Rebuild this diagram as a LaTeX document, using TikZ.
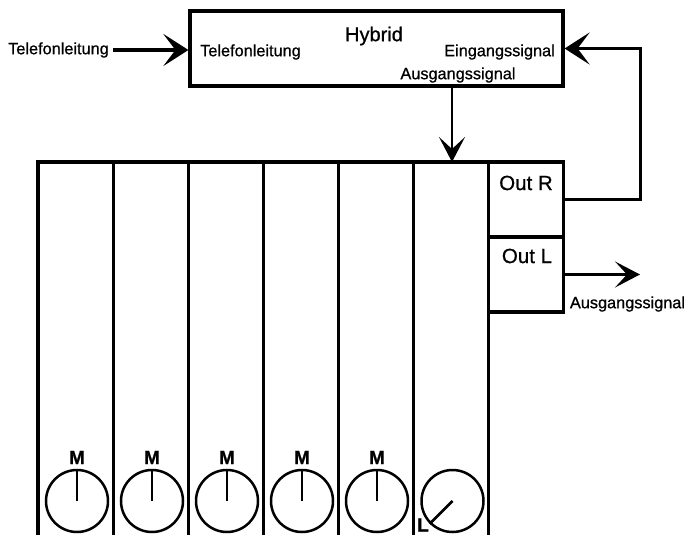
\documentclass[tikz,border=0pt]{standalone}
\usepackage{fontspec}
\setmainfont{Liberation Sans}[FakeBold=0.8]
\usetikzlibrary{arrows.meta}
\begin{document}
\begin{tikzpicture}[x=1pt,y=-1pt,
  thickline/.style={line width=3.2pt},
  conn/.style={line width=3.2pt},
  thinconn/.style={line width=2.3pt},
  bigtip/.style={-{Stealth[length=25pt,width=32pt,inset=12pt]}},
  midtip/.style={-{Stealth[length=25pt,width=26pt,inset=12pt]}},
  lbl/.style={font=\fontsize{16.3}{18}\selectfont, inner sep=0pt},
  biglbl/.style={font=\fontsize{20.5}{22}\selectfont, inner sep=0pt},
  knoblbl/.style={font=\fontsize{19}{21}\selectfont\bfseries, inner sep=0pt},
  knob/.style={circle, draw, minimum size=62pt, line width=2.5pt, inner sep=0pt},
  outbox/.style={draw, thickline, minimum width=75.1pt, minimum height=75pt, inner sep=0pt},
  pointer/.style={line width=2.5pt}]
\useasboundingbox (0,0) rectangle (686,535);

% Hybrid
\node[draw, thickline, minimum width=373pt, minimum height=75pt, inner sep=0pt] (hyb) at (376.5,48.5) {};
\node[font=\fontsize{20}{22}\selectfont, inner sep=0pt] (hybt) at (374,36) {Hybrid};
\node[lbl, anchor=west] (tin) at (200,52) {Telefonleitung};
\node[lbl, anchor=east] (ein) at (555,52) {Eingangssignal};
\node[lbl] (aus) at (458,75) {Ausgangssignal};

% left input
\node[lbl, anchor=west] (tel) at (8,50) {Telefonleitung};
\draw[conn,bigtip] ([xshift=4pt]tel.east) -- (tel.east -| hyb.west);

% mixer
\draw[thickline] (38,537) -- (38,162) -- (488.6,162);
\foreach \x in {113.1,188.2,263.3,338.4,413.5,488.6} {
  \draw[thickline] (\x,162) -- (\x,537);
}
\node[outbox] (outR) at (526.15,199.5) {};
\node[outbox] (outL) at (526.15,274.5) {};
\node[biglbl] (outRt) at (526,183) {Out R};
\node[biglbl] (outLt) at (527,256) {Out L};

% hybrid -> mixer
\coordinate (mtop) at (452,162);
\draw[thinconn,midtip] (hyb.south -| mtop) -- (mtop);

% Out R -> hybrid
\draw[conn,bigtip] (outR.east) -| ([xshift=76pt]hyb.east) -- (hyb.east);

% Out L output
\coordinate (oend) at (640,274.5);
\draw[thinconn,midtip] (outL.east) -- (oend);
\node[lbl] (ausR) at (627.5,304) {Ausgangssignal};

% knobs
\foreach \i/\x in {1/77,2/152,3/227,4/302,5/377} {
  \node[knob] (k\i) at (\x,501) {};
  \draw[pointer] (k\i.center) -- (k\i.north);
  \node[knoblbl] (m\i) at (\x,457.5) {M};
}
\node[knob] (k6) at (452.5,501) {};
\draw[pointer] (k6.center) -- (k6.south west);
\node[knoblbl] (l6) at (423,525) {L};
\end{tikzpicture}
\end{document}
